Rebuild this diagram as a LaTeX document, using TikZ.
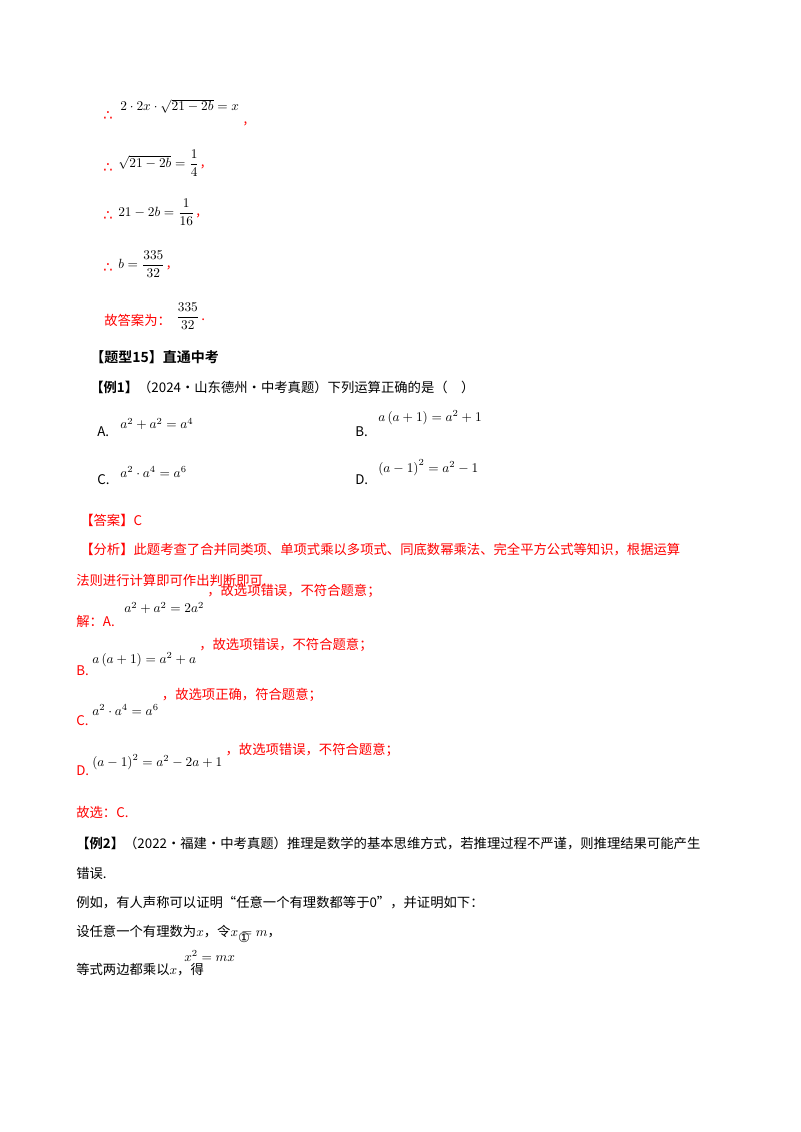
\documentclass[tikz,border=0pt]{standalone}
\usepackage{amsmath,amssymb}
\usepackage{fontspec}
\setmainfont{Liberation Serif}
\newfontfamily\cjk{Noto Sans CJK SC}
\newfontfamily\cjkb{Noto Sans CJK SC Bold}
\newfontfamily\sym{DejaVu Sans}
\begin{document}
\begin{tikzpicture}[x=0.75pt,y=-0.75pt,
  t/.style={anchor=west,inner sep=0pt,font=\fontsize{10}{12}\selectfont\cjk},
  r/.style={t,text=red},
  tf/.style={r,font=\fontsize{11}{12}\selectfont\sym},
  m/.style={anchor=west,inner sep=0pt,font=\fontsize{10}{12}\selectfont}]
\useasboundingbox[fill=white] (0,0) rectangle (800,1132);
% therefore lines
\node[tf] (t1) at (103,116) {∴};
\node[m] (e1) at (120,106) {$2\cdot 2x\cdot\sqrt{21-2b}=x$};
\node[r,anchor=south west] (c1) at ([xshift=3pt,yshift=-10pt]e1.south east) {,};
\node[tf] (t2) at (103,168) {∴};
\node[m] (e2) at (118,163) {$\sqrt{21-2b}=\dfrac{1}{4}$};
\node[r] (c2) at ([xshift=1pt,yshift=-3pt]e2.east) {,};
\node[tf] (t3) at (103,216) {∴};
\node[m] (e3) at (118,212) {$21-2b=\dfrac{1}{16}$};
\node[r] (c3) at ([xshift=1pt,yshift=-3pt]e3.east) {,};
\node[tf] (t4) at (103,268) {∴};
\node[m] (e4) at (118,264) {$b=\dfrac{335}{32}$};
\node[r] (c4) at ([xshift=1pt,yshift=-3pt]e4.east) {,};
\node[r] (ans0) at (104,320) {故答案为：};
\node[m] (ans1) at (176,316) {$\dfrac{335}{32}$};
\node[r] (ans2) at ([xshift=1pt,yshift=-3pt]ans1.east) {.};
% heading
\node[t,font=\fontsize{10.5}{12}\selectfont\cjkb] (h) at (90,357) {【题型15】直通中考};
\node[t] (ex1) at (90,387) {{\cjkb【例1】}（2024·山东德州·中考真题）下列运算正确的是（\quad）};
\node[t] (oA) at (97,432) {A.};
\node[m] (fA) at (120,424) {$a^2+a^2=a^4$};
\node[t] (oB) at (355,432) {B.};
\node[m] (fB) at (378,418) {$a\left(a+1\right)=a^2+1$};
\node[t] (oC) at (97,480) {C.};
\node[m] (fC) at (120,472) {$a^2\cdot a^4=a^6$};
\node[t] (oD) at (355,480) {D.};
\node[m] (fD) at (378,468) {$\left(a-1\right)^2=a^2-1$};
\node[r] (da) at (80,520) {【答案】C};
\node[r] (fx1) at (80,550) {【分析】此题考查了合并同类项、单项式乘以多项式、同底数幂乘法、完全平方公式等知识，根据运算};
\node[r] (fx2) at (76,580) {法则进行计算即可作出判断即可.};
\node[r] (jA) at (76,621) {解：A.};
\node[m] (jAf) at (124,608) {$a^2+a^2=2a^2$};
\node[r] (jAt) at ([xshift=2pt,yshift=13pt]jAf.east) {，故选项错误，不符合题意；};
\node[r] (jB) at (76,671) {B.};
\node[m] (jBf) at (92,660) {$a\left(a+1\right)=a^2+a$};
\node[r] (jBt) at ([xshift=2pt,yshift=11pt]jBf.east) {，故选项错误，不符合题意；};
\node[r] (jC) at (76,721) {C.};
\node[m] (jCf) at (92,710) {$a^2\cdot a^4=a^6$};
\node[r] (jCt) at ([xshift=2pt,yshift=11pt]jCf.east) {，故选项正确，符合题意；};
\node[r] (jD) at (76,771) {D.};
\node[m] (jDf) at (92,762) {$\left(a-1\right)^2=a^2-2a+1$};
\node[r] (jDt) at ([xshift=2pt,yshift=9pt]jDf.east) {，故选项错误，不符合题意；};
\node[r] (gx) at (76,812) {故选：C.};
\node[t] (ex2) at (76,843) {{\cjkb【例2】}（2022·福建·中考真题）推理是数学的基本思维方式，若推理过程不严谨，则推理结果可能产生};
\node[t] (ex2b) at (76,873) {错误.};
\node[t] (l1) at (76,903) {例如，有人声称可以证明“任意一个有理数都等于0”，并证明如下：};
\node[t] (l2) at (76,932) {设任意一个有理数为$x$，令$x=m$，};
\node[t] (l3) at (76,970) {等式两边都乘以$x$，得};
\node[m] (l3f) at (184,956) {$x^2=mx$};
\node[t,font=\fontsize{10}{12}\selectfont\sym] (l3c) at ([xshift=2pt,yshift=14pt]l3f.east) {①};
\end{tikzpicture}
\end{document}
